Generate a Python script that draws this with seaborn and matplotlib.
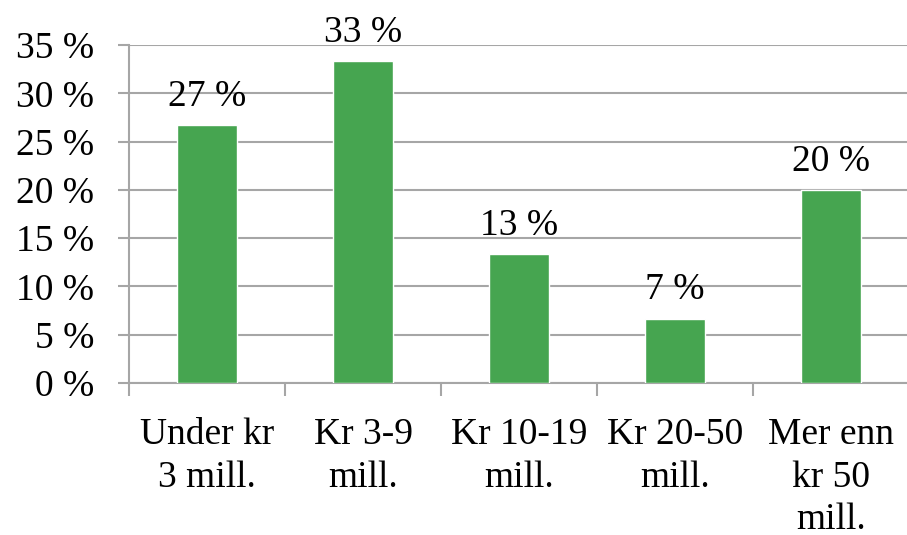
import numpy as np
import pandas as pd
import matplotlib
matplotlib.use('Agg')
import matplotlib.pyplot as plt
import seaborn as sns

# data
categories = ['Under kr\n3 mill.', 'Kr 3-9\nmill.', 'Kr 10-19\nmill.', 'Kr 20-50\nmill.', 'Mer enn\nkr 50\nmill.']
values = [26.67, 33.33, 13.33, 6.67, 20.0]
labels = ['27 %', '33 %', '13 %', '7 %', '20 %']
yticks = [0, 5, 10, 15, 20, 25, 30, 35]

df = pd.DataFrame({'kategori': categories, 'andel': values})

sns.set_style('white')
plt.rcParams['font.family'] = ['Liberation Serif', 'DejaVu Serif']
plt.rcParams['text.color'] = 'black'
plt.rcParams['xtick.color'] = 'black'
plt.rcParams['ytick.color'] = 'black'

fig = plt.figure(figsize=(9.07, 5.35), dpi=100)
ax = fig.add_axes([129 / 907, 1 - 383 / 535, 780 / 907, 338 / 535])

grid_col = '#a6a6a6'
sns.barplot(data=df, x='kategori', y='andel', color='#46a550', width=0.39,
            saturation=1, ax=ax, zorder=3)

fs = 27
ax.set_ylim(0, 35)
ax.set_xlim(-0.5, 4.5)
ax.set_yticks(yticks)
ax.set_yticklabels([f'{t} %' for t in yticks], fontsize=fs)
ax.yaxis.grid(True, color=grid_col, linewidth=1.5, zorder=0)
ax.set_axisbelow(True)

ax.tick_params(axis='y', length=8, width=1.5, color=grid_col, labelcolor='black', pad=17, left=True)
ax.tick_params(axis='x', which='major', length=0, pad=25, labelsize=fs, labelcolor='black')
ax.set_xticks(np.arange(-0.5, 4.6, 1), minor=True)
ax.tick_params(axis='x', which='minor', length=9, width=1.5, color=grid_col, bottom=True)
for lab in ax.get_xticklabels():
    lab.set_linespacing(1.3)

for s in ['top', 'right']:
    ax.spines[s].set_visible(False)
for s in ['left', 'bottom']:
    ax.spines[s].set_color(grid_col)
    ax.spines[s].set_linewidth(1.5)

for i, (v, t) in enumerate(zip(values, labels)):
    ax.text(i, v + 2.0, t, ha='center', va='baseline', fontsize=fs, color='black')

ax.set_xlabel('')
ax.set_ylabel('')

fig.savefig('out.png', dpi=100)
